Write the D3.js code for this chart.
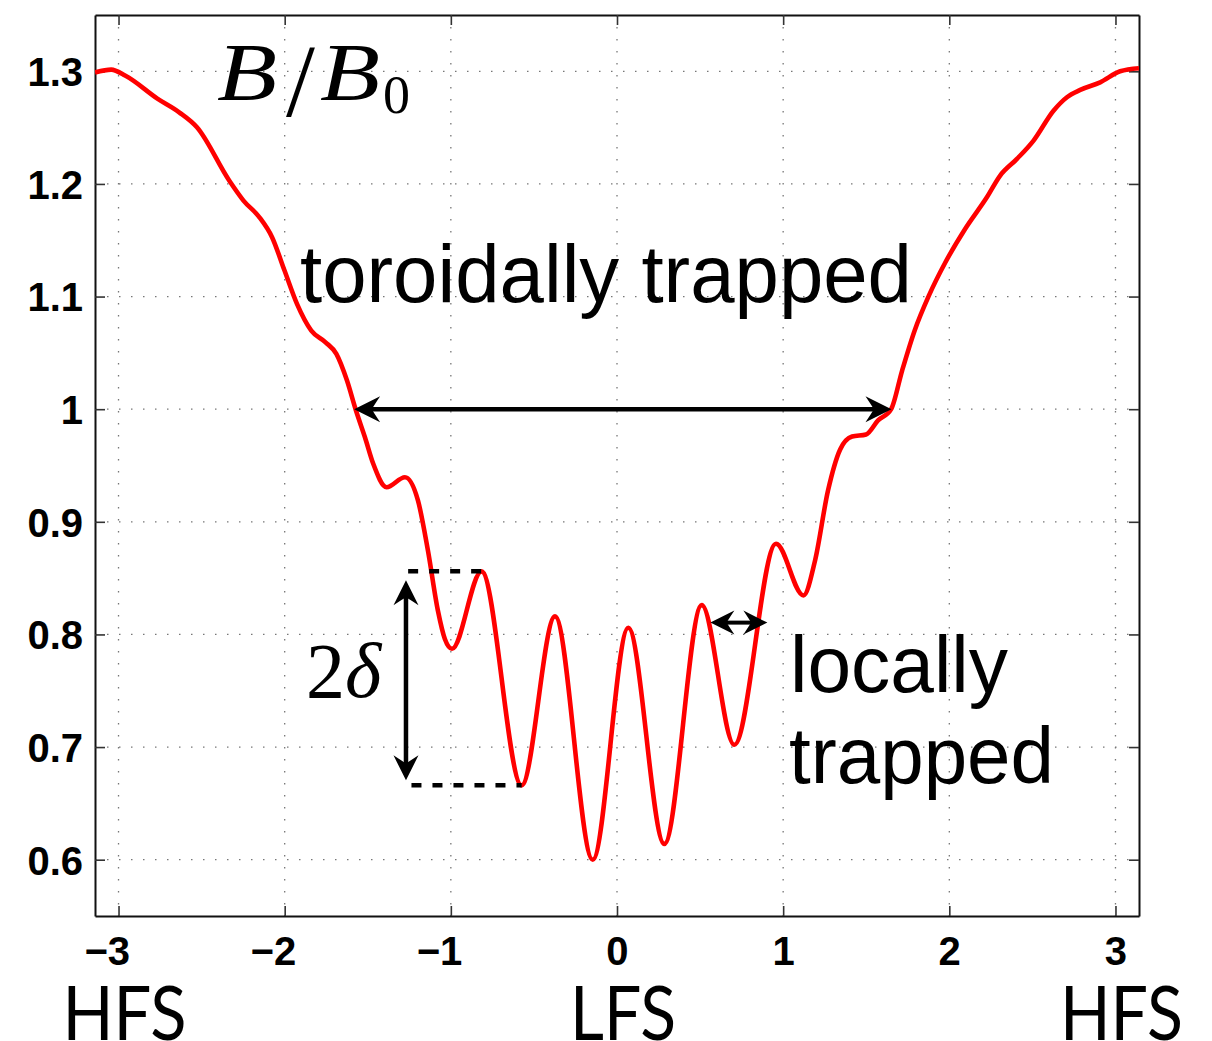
<!DOCTYPE html>
<html>
<head>
<meta charset="utf-8">
<script src="https://cdn.jsdelivr.net/npm/d3@7"></script>
<style>
  body { margin: 0; background: #fff; }
  svg { display: block; }
</style>
</head>
<body>
<div id="chart"></div>
<script>
// poloidal angle (rad) and B/B0
const phi = [-3.1416, -3.044, -2.958, -2.764, -2.635, -2.528, -2.334, -2.248, -2.152, -2.076,
    -2.001, -1.926, -1.840, -1.754, -1.689, -1.625, -1.571, -1.517, -1.467, -1.387,
    -1.276, -1.198, -1.138, -1.078, -1.036, -0.993, -0.815, -0.574, -0.373, -0.146,
    0.068, 0.285, 0.510, 0.706, 0.957, 1.122, 1.192, 1.270, 1.343, 1.415,
    1.499, 1.571, 1.650, 1.716, 1.791, 1.877, 1.975, 2.095, 2.226, 2.306,
    2.407, 2.507, 2.627, 2.708, 2.788, 2.908, 3.028, 3.1416];
const bRatio = [1.299, 1.3015, 1.296, 1.2755, 1.2636, 1.2503, 1.2030, 1.1852, 1.1704, 1.1527,
    1.1231, 1.0935, 1.0698, 1.0594, 1.0491, 1.0254, 0.9988, 0.9751, 0.9515, 0.9307,
    0.9396, 0.919, 0.8746, 0.8213, 0.796, 0.7873, 0.856, 0.666, 0.816, 0.600,
    0.806, 0.614, 0.826, 0.702, 0.8805, 0.8346, 0.8657, 0.9278, 0.9642, 0.9757,
    0.9775, 0.990, 1.000, 1.0343, 1.0697, 1.1008, 1.1300, 1.1600, 1.1881, 1.2074,
    1.2222, 1.2385, 1.265, 1.277, 1.2835, 1.2902, 1.300, 1.3027];

const xTicks = [-3, -2, -1, 0, 1, 2, 3];
const xTickLabels = ["\u22123", "\u22122", "\u22121", "0", "1", "2", "3"];
const yTicks = [0.6, 0.7, 0.8, 0.9, 1.0, 1.1, 1.2, 1.3];
const yTickLabels = ["0.6", "0.7", "0.8", "0.9", "1", "1.1", "1.2", "1.3"];
const sideLabels = [{x: -3, t: "HFS", w: 124}, {x: 0, t: "LFS", w: 106}, {x: 3, t: "HFS", w: 123}];

// annotation anchors (data units)
const toroidalSpan = [-1.582, 1.652];
const toroidalLevel = 1.0;
const localSpan = [0.562, 0.905];
const localLevel = 0.8105;
const deltaX = -1.270;
const deltaTop = 0.856, deltaBottom = 0.666;
const deltaTopSpan = [-1.257, -0.815];
const deltaBottomSpan = [-1.237, -0.574];

const W = 1212, H = 1041;
const margin = {top: 15, right: 73, bottom: 125, left: 95};
const width = W - margin.left - margin.right;
const height = H - margin.top - margin.bottom;

const svg = d3.select("#chart").append("svg")
    .attr("width", W)
    .attr("height", H);

const g = svg.append("g")
    .attr("transform", `translate(${margin.left},${margin.top})`);

const x = d3.scaleLinear().domain([-Math.PI, Math.PI]).range([0, width]);
const y = d3.scaleLinear().domain([0.55, 1.35]).range([height, 0]);

// dotted grid
g.append("g").selectAll("line")
    .data(xTicks)
    .enter().append("line")
    .attr("x1", d => x(d)).attr("x2", d => x(d))
    .attr("y1", 0).attr("y2", height)
    .attr("stroke", "#777").attr("stroke-width", 1.3)
    .attr("stroke-dasharray", "1.5,10.5");
g.append("g").selectAll("line")
    .data(yTicks)
    .enter().append("line")
    .attr("x1", 0).attr("x2", width)
    .attr("y1", d => y(d)).attr("y2", d => y(d))
    .attr("stroke", "#777").attr("stroke-width", 1.3)
    .attr("stroke-dasharray", "1.5,10.5");

// axes, ticks point inward
const font = "'Liberation Sans', Arial, Helvetica, sans-serif";

let xAxis = g.append("g")
    .attr("transform", `translate(0,${height})`)
    .call(d3.axisBottom(x).tickValues(xTicks).tickSizeInner(-10).tickSizeOuter(0)
        .tickFormat((d, i) => xTickLabels[i]));
xAxis.selectAll("text")
    .attr("y", 49).attr("dy", 0).attr("dx", 11)
    .attr("text-anchor", "end")
    .style("font-family", font).style("font-weight", "bold").style("font-size", "40px")
    .attr("fill", "#000");

let yAxis = g.append("g")
    .call(d3.axisLeft(y).tickValues(yTicks).tickSizeInner(-10).tickSizeOuter(0).tickPadding(12)
        .tickFormat((d, i) => yTickLabels[i]));
yAxis.selectAll("text")
    .attr("dy", "0.36em")
    .style("font-family", font).style("font-weight", "bold").style("font-size", "40px")
    .attr("fill", "#000");

g.append("g")
    .call(d3.axisTop(x).tickValues(xTicks).tickSizeInner(-10).tickSizeOuter(0).tickFormat(""));
g.append("g")
    .attr("transform", `translate(${width},0)`)
    .call(d3.axisRight(y).tickValues(yTicks).tickSizeInner(-10).tickSizeOuter(0).tickFormat(""));

g.selectAll(".domain").attr("stroke", "#111").attr("stroke-width", 2);
g.selectAll(".tick line").attr("stroke", "#333").attr("stroke-width", 1.6);

// curve
g.append("clipPath").attr("id", "clip")
    .append("rect").attr("width", width).attr("height", height);

const line = d3.line()
    .x((d, i) => x(phi[i]))
    .y(d => y(d))
    .curve(d3.curveMonotoneX);

g.append("path")
    .datum(bRatio)
    .attr("clip-path", "url(#clip)")
    .attr("d", line)
    .attr("fill", "none")
    .attr("stroke", "#ff0000")
    .attr("stroke-width", 4.6)
    .attr("stroke-linejoin", "round");

// arrows
function arrowHead(px, py, angle, len) {
    let L = len || 25;
    g.append("path")
        .attr("d", `M0,0 L${-L},${-L / 2} Q${-L * 0.72},${-L * 0.08} ${-L * 0.68},0 Q${-L * 0.72},${L * 0.08} ${-L},${L / 2} Z`)
        .attr("transform", `translate(${px},${py}) rotate(${angle})`)
        .attr("fill", "#000");
}
function doubleArrow(x1, y1, x2, y2, len, sw) {
    let ang = Math.atan2(y2 - y1, x2 - x1) * 180 / Math.PI;
    let L = len || 25;
    let dx = Math.cos(ang * Math.PI / 180) * L * 0.6, dy = Math.sin(ang * Math.PI / 180) * L * 0.6;
    g.append("line")
        .attr("x1", x1 + dx).attr("y1", y1 + dy)
        .attr("x2", x2 - dx).attr("y2", y2 - dy)
        .attr("stroke", "#000").attr("stroke-width", sw || 4.5);
    arrowHead(x2, y2, ang, L);
    arrowHead(x1, y1, ang + 180, L);
}

doubleArrow(x(toroidalSpan[0]), y(toroidalLevel), x(toroidalSpan[1]), y(toroidalLevel), 26, 4.5);
doubleArrow(x(localSpan[0]), y(localLevel), x(localSpan[1]), y(localLevel), 24, 4);
doubleArrow(x(deltaX), y(deltaTop) + 9, x(deltaX), y(deltaBottom) - 5, 25, 4.5);

// 2 delta dashed levels
g.append("line")
    .attr("x1", x(deltaTopSpan[0])).attr("x2", x(deltaTopSpan[1]))
    .attr("y1", y(deltaTop)).attr("y2", y(deltaTop))
    .attr("stroke", "#000").attr("stroke-width", 4.5).attr("stroke-dasharray", "10,11");
g.append("line")
    .attr("x1", x(deltaBottomSpan[0])).attr("x2", x(deltaBottomSpan[1]))
    .attr("y1", y(deltaBottom)).attr("y2", y(deltaBottom))
    .attr("stroke", "#000").attr("stroke-width", 4.5).attr("stroke-dasharray", "10,11");

// text labels (svg coords)
const serif = "'Liberation Serif', 'Times New Roman', serif";

svg.append("text").attr("x", 217).attr("y", 100)
    .style("font-family", serif).style("font-style", "italic").style("font-size", "82px")
    .attr("textLength", 60).attr("lengthAdjust", "spacingAndGlyphs")
    .text("B");
svg.append("text").attr("x", 286).attr("y", 116)
    .style("font-family", serif).style("font-size", "104px")
    .text("/");
svg.append("text").attr("x", 320).attr("y", 100)
    .style("font-family", serif).style("font-style", "italic").style("font-size", "82px")
    .attr("textLength", 60).attr("lengthAdjust", "spacingAndGlyphs")
    .text("B");
svg.append("text").attr("x", 383).attr("y", 113)
    .style("font-family", serif).style("font-size", "54px")
    .text("0");

let twoDelta = svg.append("text").attr("x", 306).attr("y", 697)
    .style("font-family", serif).style("font-size", "78px");
twoDelta.append("tspan").text("2");
twoDelta.append("tspan").style("font-style", "italic").text("\u03b4");

svg.append("text").attr("x", 300).attr("y", 302)
    .style("font-family", font).style("font-size", "82px")
    .attr("textLength", 612).attr("lengthAdjust", "spacingAndGlyphs")
    .text("toroidally trapped");

svg.append("text").attr("x", 790).attr("y", 692)
    .style("font-family", font).style("font-size", "80px")
    .attr("textLength", 218).attr("lengthAdjust", "spacingAndGlyphs")
    .text("locally");
svg.append("text").attr("x", 789).attr("y", 783)
    .style("font-family", font).style("font-size", "80px")
    .attr("textLength", 265).attr("lengthAdjust", "spacingAndGlyphs")
    .text("trapped");

// HFS / LFS under the axis
svg.append("g").selectAll("text")
    .data(sideLabels)
    .enter().append("text")
    .attr("x", d => margin.left + x(d.x) + 6)
    .attr("y", 1040)
    .attr("text-anchor", "middle")
    .attr("textLength", d => d.w).attr("lengthAdjust", "spacingAndGlyphs")
    .style("font-family", "Lato, 'Open Sans', sans-serif").style("font-size", "76px")
    .text(d => d.t);
</script>
</body>
</html>
